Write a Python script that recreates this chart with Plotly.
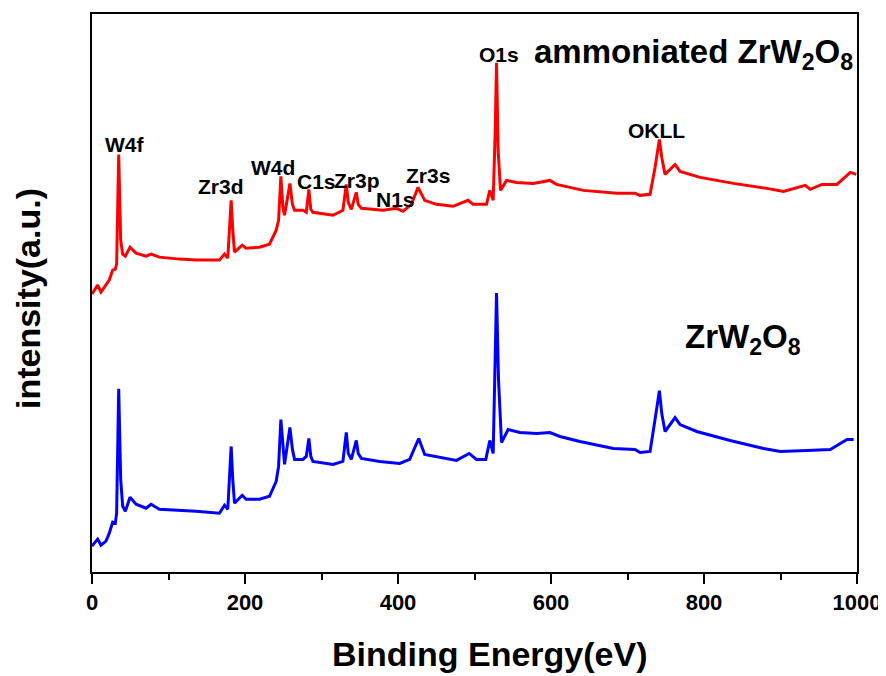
import plotly.graph_objects as go

# ---- data (binding energy in eV, intensity in arbitrary units) ----
red_energy = [0, 7.4, 11.7, 22.6, 27, 30.5, 32.2, 34.9, 37.5, 40.1, 43.6, 49.7, 57.6, 70.7, 77.2,
              88.1, 114.3, 136.1, 166.6, 173.2, 177.5, 179.5, 181.9, 184, 186.3, 196.3, 201.5, 219,
              232, 240.8, 243.9, 246.9, 249.5, 251.7, 258.7, 262, 264.8, 275.7, 280.1, 283.5, 286,
              288.8, 315, 328, 332.4, 335, 339, 345.5, 348, 352.1, 376, 380.4, 397.9, 406.5, 417.5,
              426.2, 434.9, 450.2, 472, 491.7, 498.2, 515.7, 520, 524.4, 527, 528.8, 530.9, 534,
              541.9, 555, 576.7, 598.6, 607.3, 642.2, 685.9, 709.8, 716.4, 729.5, 736, 741.7, 744.8,
              749.1, 762.2, 768.7, 794.9, 838.5, 882.2, 903.9, 932.3, 938.9, 954.2, 973.8, 991.2, 999]
red_intensity = [279, 288, 281, 293, 303, 304, 309, 419, 333, 319, 317, 326, 320, 317, 319,
                 316, 314, 313, 313, 319, 315, 343, 373, 343, 321, 328, 325, 326,
                 329, 343, 353, 397, 366, 358, 390, 369, 363, 363, 361, 384, 364,
                 361, 358, 363, 389, 371, 364, 381, 369, 365, 363, 363, 365, 362, 369,
                 386, 373, 369, 367, 373, 369, 369, 383, 373, 440, 511, 423, 383,
                 393, 391, 390, 393, 389, 383, 380, 380, 378, 379, 406, 434, 416,
                 399, 409, 402, 396, 390, 385, 382, 388, 384, 389, 389, 401, 399]

blue_energy = [0, 7.4, 11.7, 18.3, 22.6, 27, 30.5, 32.2, 34.9, 37.5, 40.1, 43.6, 49.7, 57.6, 70.7,
               77.2, 88.1, 114.3, 136.1, 166.6, 173.2, 177.5, 179.5, 181.9, 184, 186.3, 196.3, 201.5,
               219, 232, 240.8, 243.9, 246.9, 249.5, 251.7, 258.7, 262, 264.8, 275.7, 280.1, 283.5,
               286, 288.8, 315, 328, 332.4, 335, 339, 345.5, 348, 352.1, 376, 402.2, 415.3, 427.1,
               434.9, 463.4, 476.4, 493, 502.6, 514.8, 520, 524.4, 526.6, 528.8, 531.4, 535.3, 544,
               559.3, 581.2, 598.6, 611.7, 637.8, 681.5, 709.8, 716.4, 729.5, 736, 741.7, 744.8,
               749.1, 762.2, 768.7, 790.5, 834.2, 877.8, 899.7, 934.6, 965.1, 986.9, 995.6]
blue_intensity = [26, 33, 27, 31, 39, 50, 49, 59, 184, 93, 66, 61, 75, 68, 64,
                  68, 63, 62, 61, 59, 67, 63, 93, 126, 93, 69, 77, 73,
                  73, 76, 91, 106, 153, 126, 108, 145, 123, 113, 113, 116, 134,
                  116, 111, 108, 111, 140, 119, 113, 132, 119, 114, 111, 109, 113, 134,
                  118, 114, 112, 119, 113, 113, 132, 119, 193, 280, 193, 130, 143,
                  140, 139, 140, 136, 131, 124, 123, 120, 121, 153, 182, 159,
                  141, 155, 148, 141, 132, 124, 121, 122, 123, 133, 133]

peak_labels = ["W4f", "Zr3d", "W4d", "C1s", "Zr3p", "N1s", "Zr3s", "O1s", "OKLL"]
peak_label_x = [43.3, 168.8, 236.4, 293.2, 346.6, 396.3, 439.3, 531.8, 738.2]
peak_label_y = [429, 386.5, 405.5, 392, 393, 374, 398, 519, 443]

series_names = ["ammoniated ZrW<sub>2</sub>O<sub>8</sub>", "ZrW<sub>2</sub>O<sub>8</sub>"]
series_label_x = [574.6, 773]
series_label_y = [520, 234]

x_tick_vals = [0, 200, 400, 600, 800, 1000]
x_tick_text = ["0", "200", "400", "600", "800", "1000"]

FONT = "Liberation Sans, Arial, Helvetica, sans-serif"

fig = go.Figure()
fig.add_trace(go.Scatter(x=red_energy, y=red_intensity, mode="lines",
                         line=dict(color="#ff0000", width=3), name="ammoniated ZrW2O8",
                         showlegend=False))
fig.add_trace(go.Scatter(x=blue_energy, y=blue_intensity, mode="lines",
                         line=dict(color="#0000ff", width=3), name="ZrW2O8",
                         showlegend=False))

annotations = []
for t, xv, yv in zip(peak_labels, peak_label_x, peak_label_y):
    annotations.append(dict(x=xv, y=yv, xref="x", yref="y", text=t, showarrow=False,
                            xanchor="center", yanchor="middle",
                            font=dict(family=FONT, size=21, color="black", weight="bold")))
for t, xv, yv in zip(series_names, series_label_x, series_label_y):
    annotations.append(dict(x=xv, y=yv, xref="x", yref="y", text=t, showarrow=False,
                            xanchor="left", yanchor="middle",
                            font=dict(family=FONT, size=33, color="black", weight="bold")))
# axis titles
annotations.append(dict(x=0.519, y=-0.1473, xref="paper", yref="paper",
                        text="Binding Energy(eV)", showarrow=False,
                        xanchor="center", yanchor="middle",
                        font=dict(family=FONT, size=34, color="black", weight="bold")))
annotations.append(dict(x=-0.0844, y=0.49, xref="paper", yref="paper",
                        text="intensity(a.u.)", showarrow=False, textangle=-90,
                        xanchor="center", yanchor="middle", borderpad=0,
                        font=dict(family=FONT, size=34, color="black", weight="bold")))

# the page adds an 8px body margin, so the figure is sized/offset to compensate
fig.update_layout(
    width=878, height=668,
    margin=dict(l=84, r=29, t=4, b=104),
    paper_bgcolor="white", plot_bgcolor="white",
    showlegend=False,
    annotations=annotations,
    font=dict(family=FONT, color="black"),
)
fig.update_xaxes(
    range=[0, 1000], tickvals=x_tick_vals, ticktext=x_tick_text,
    ticks="outside", ticklen=10, tickwidth=2, tickcolor="black",
    minor=dict(ticks="outside", dtick=100, tick0=0, ticklen=6, tickwidth=2, tickcolor="black"),
    showline=True, linewidth=2, linecolor="black", mirror=True,
    showgrid=False, zeroline=False,
    tickfont=dict(family=FONT, size=22, color="black", weight="bold"),
)
fig.update_yaxes(
    range=[0, 560], showticklabels=False, ticks="",
    showline=True, linewidth=2, linecolor="black", mirror=True,
    showgrid=False, zeroline=False,
)

fig.write_html("out.html")
